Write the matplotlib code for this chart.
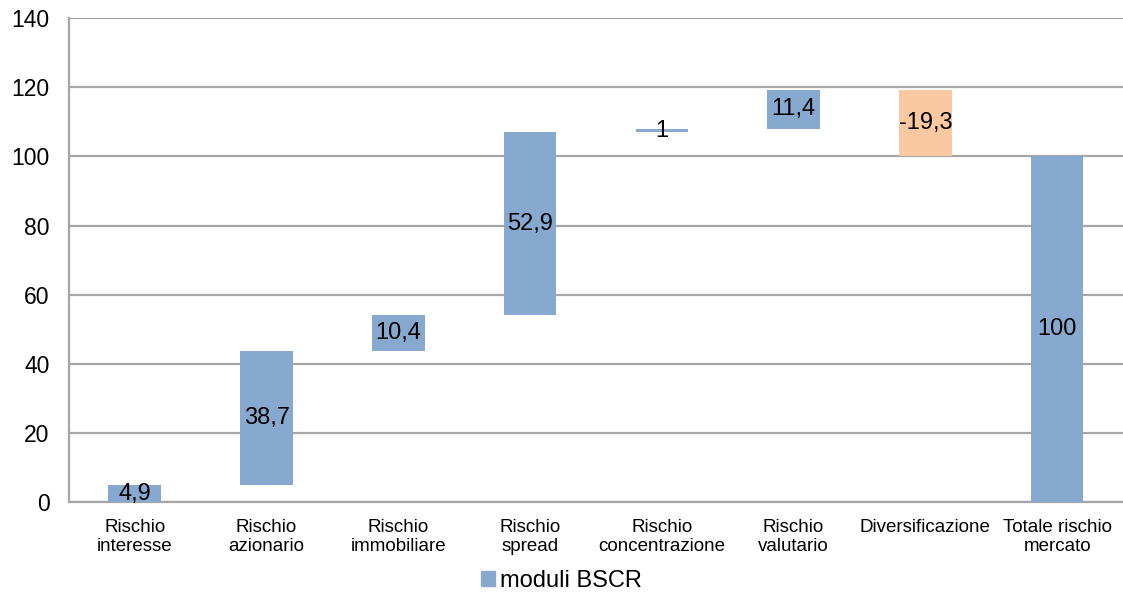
import matplotlib
matplotlib.use("Agg")
import matplotlib.pyplot as plt
import numpy as np
from matplotlib.patches import Patch

plt.rcParams['font.family'] = ['Liberation Sans', 'DejaVu Sans']

categorie = ["Rischio\ninteresse", "Rischio\nazionario", "Rischio\nimmobiliare", "Rischio\nspread",
             "Rischio\nconcentrazione", "Rischio\nvalutario", "Diversificazione", "Totale rischio\nmercato"]
valori = [4.9, 38.7, 10.4, 52.9, 1, 11.4, -19.3, 100]
etichette = ["4,9", "38,7", "10,4", "52,9", "1", "11,4", "-19,3", "100"]

blu = "#87A9CF"
arancio = "#FAC9A1"

# basi del waterfall
basi = []
altezze = []
colori = []
cum = 0
for i, v in enumerate(valori):
    if i == len(valori) - 1:
        basi.append(0)
        altezze.append(v)
        colori.append(blu)
    elif v < 0:
        cum += v
        basi.append(cum)
        altezze.append(-v)
        colori.append(arancio)
    else:
        basi.append(cum)
        altezze.append(v)
        colori.append(blu)
        cum += v

fig = plt.figure(figsize=(11.23, 5.95), dpi=100)
ax = fig.add_axes([0.0614, 0.156, 0.9386, 0.8137])

x = np.arange(len(categorie))
ax.bar(x, altezze, bottom=basi, width=0.4, color=colori, zorder=3)

for i in range(len(x)):
    ax.text(x[i], basi[i] + altezze[i] / 2, etichette[i], ha='center', va='center',
            fontsize=17, color='black', zorder=4)

ax.set_xlim(-0.5, len(x) - 0.5)
ax.set_ylim(0, 140)
ax.set_yticks(range(0, 141, 20))
ax.yaxis.grid(True, color='#A6A6A6', linewidth=1.6, zorder=0)
ax.set_axisbelow(True)
ax.set_xticks(x)
ax.set_xticklabels(categorie, fontsize=13.5, linespacing=1.15)
ax.tick_params(axis='both', length=0)
ax.tick_params(axis='y', labelsize=16.5, pad=14)
ax.tick_params(axis='x', pad=12)
for s in ['top', 'right']:
    ax.spines[s].set_visible(False)
for s in ['left', 'bottom']:
    ax.spines[s].set_color('#A6A6A6')
    ax.spines[s].set_linewidth(1.6)

# titolo tagliato in alto come nell'originale
fig.text(0.548, 1.02, "(composizione per modulo)", ha='center', va='center',
         fontsize=16, style='italic', color='#1F4E79')

fig.legend(handles=[Patch(color=blu, label="moduli BSCR")], loc='lower center',
           bbox_to_anchor=(0.5, -0.03), frameon=False, fontsize=17,
           handlelength=0.6, handleheight=0.6, handletextpad=0.2)

fig.savefig("out.png", dpi=100)
